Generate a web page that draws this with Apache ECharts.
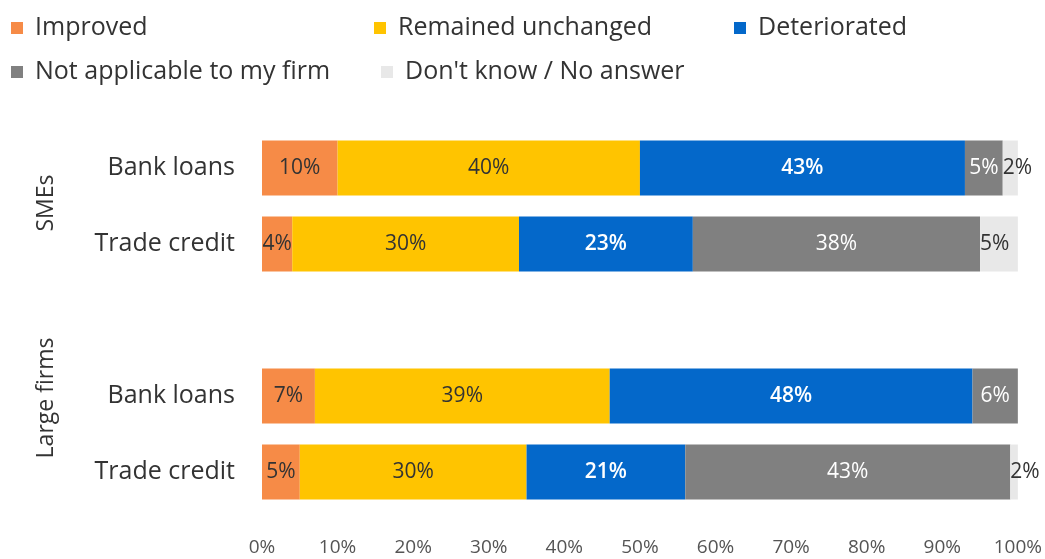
<!DOCTYPE html>
<html>
<head>
<meta charset="utf-8">
<script src="https://cdn.jsdelivr.net/npm/echarts@6/dist/echarts.min.js"></script>
<style>
  html, body { margin: 0; padding: 0; background: #fff; }
  #chart { width: 1045px; height: 559px; }
</style>
</head>
<body>
<div id="chart"></div>
<script>
// Rows top to bottom; the empty row separates the two firm-size groups
const categories = ['SMEs|Bank loans', 'SMEs|Trade credit', 'gap', 'Large|Bank loans', 'Large|Trade credit'];
const groupLabels = ['SMEs', 'Large firms'];
const seriesNames = ['Improved', 'Remained unchanged', 'Deteriorated', 'Not applicable to my firm', "Don't know / No answer"];

const improved      = [10, 4, '-', 7, 5];
const unchanged     = [40, 30, '-', 39, 30];
const deteriorated  = [43, 23, '-', 48, 21];
const notApplicable = [5, 38, '-', 6, 43];
const dontKnow      = [2, 5, '-', 0, 2];

const xTicks = [0, 10, 20, 30, 40, 50, 60, 70, 80, 90, 100];

const colors = ['#F68B47', '#FFC400', '#0468CA', '#808080', '#E8E8E8'];
const labelColors = ['#333333', '#333333', '#ffffff', '#ffffff', '#333333'];
const labelWeights = ['normal', 'normal', 600, 'normal', 'normal'];
const values = [improved, unchanged, deteriorated, notApplicable, dontKnow];

const FONT = '"Open Sans", Lato, sans-serif';

const chart = echarts.init(document.getElementById('chart'), null, { renderer: 'canvas' });

const series = seriesNames.map((name, i) => ({
  name: name,
  type: 'bar',
  stack: 'total',
  barWidth: 55,
  data: values[i],
  itemStyle: { color: colors[i] },
  label: {
    show: true,
    position: i === 4 ? 'insideLeft' : 'inside',
    distance: 0,
    color: labelColors[i],
    fontWeight: labelWeights[i],
    fontSize: 21,
    fontFamily: FONT,
    formatter: p => (p.value === 0 || p.value === '-') ? '' : p.value + '%'
  },
  clip: true
}));

// Legend laid out as fixed columns across two rows
const legendPos = [
  { left: 11, top: 13 },
  { left: 374, top: 13 },
  { left: 734, top: 13 },
  { left: 11, top: 57 },
  { left: 381, top: 57 }
];
const legends = seriesNames.map((name, i) => ({
  data: [name],
  left: legendPos[i].left,
  top: legendPos[i].top,
  padding: 0,
  icon: 'rect',
  itemWidth: 12,
  itemHeight: 12,
  itemGap: 0,
  selectedMode: false,
  textStyle: { fontSize: 25, lineHeight: 30, fontFamily: FONT, color: '#333', padding: [0, 0, 0, 7] }
}));

chart.setOption({
  animation: false,
  backgroundColor: '#ffffff',
  legend: legends,
  grid: { left: 262, right: 26, top: 130, bottom: 49, containLabel: false },
  xAxis: {
    type: 'value',
    min: xTicks[0],
    max: xTicks[xTicks.length - 1],
    interval: 10,
    axisLine: { show: false },
    axisTick: { show: false },
    splitLine: { show: false },
    axisLabel: {
      formatter: v => v + '%',
      fontSize: 19,
      fontFamily: FONT,
      color: '#555555',
      margin: 28
    }
  },
  yAxis: {
    type: 'category',
    inverse: true,
    data: categories,
    axisLine: { show: false },
    axisTick: { show: false },
    axisLabel: {
      formatter: v => v === 'gap' ? '' : v.split('|')[1],
      fontSize: 25,
      fontFamily: FONT,
      color: '#333',
      margin: 27
    }
  },
  graphic: [
    {
      type: 'text',
      x: 46, y: 203,
      rotation: Math.PI / 2,
      style: { text: groupLabels[0], font: '23px ' + FONT, fill: '#333', align: 'center', verticalAlign: 'middle' }
    },
    {
      type: 'text',
      x: 46, y: 398,
      rotation: Math.PI / 2,
      style: { text: groupLabels[1], font: '23px ' + FONT, fill: '#333', align: 'center', verticalAlign: 'middle' }
    }
  ],
  series: series
});
</script>
</body>
</html>
